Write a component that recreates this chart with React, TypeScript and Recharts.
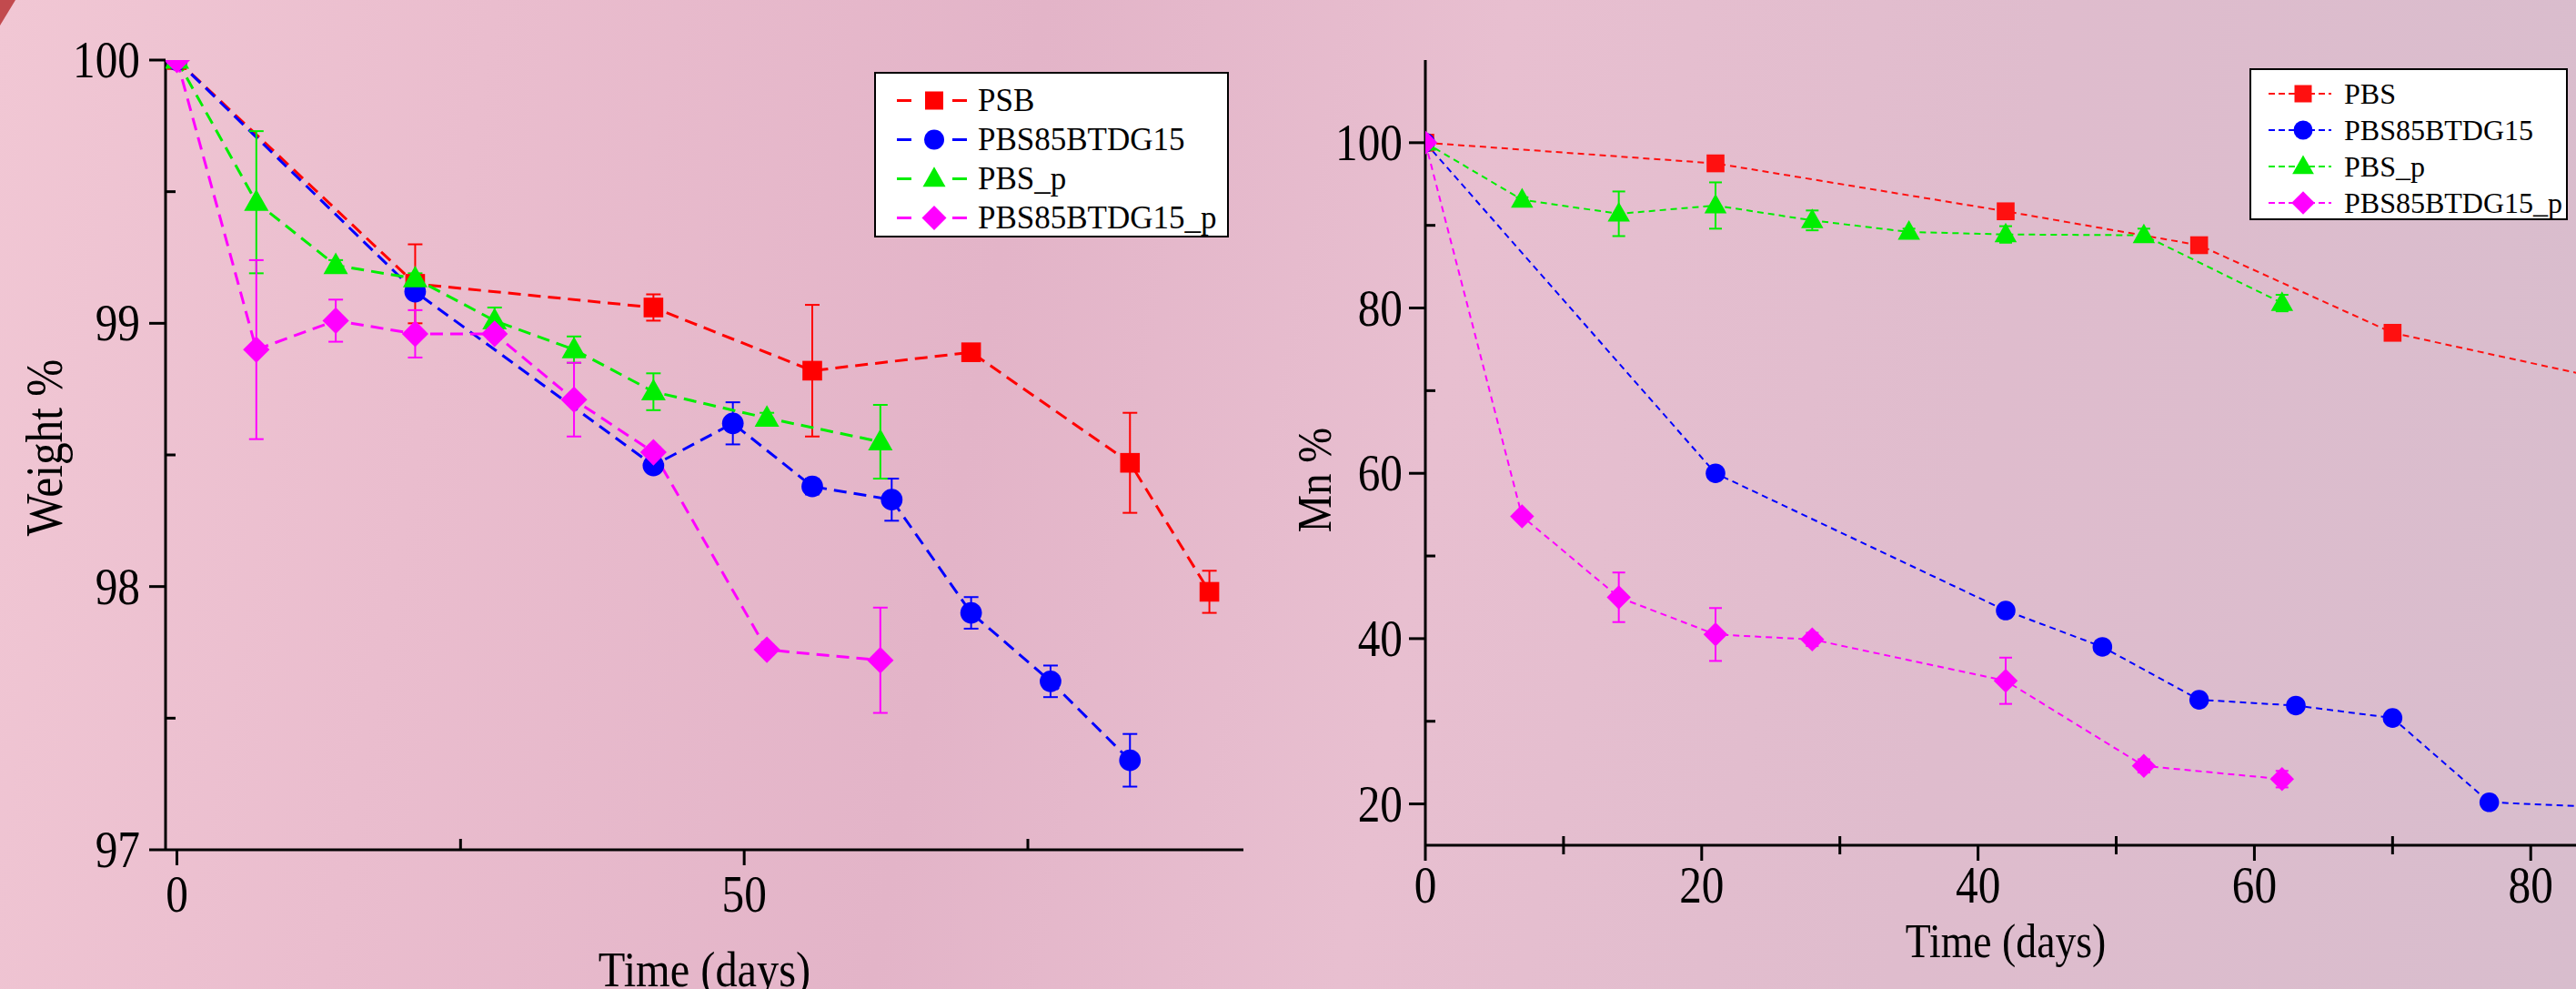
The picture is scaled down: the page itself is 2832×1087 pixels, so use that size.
import React from "react";
import { LineChart, Line, XAxis, YAxis, ErrorBar, Legend } from "recharts";

// ---- Weight % (left panel) ----
const wDaysPsb = [0, 21, 42, 56, 70, 84, 91];
const wPsb = [100, 99.15, 99.06, 98.82, 98.89, 98.47, 97.98];
const wPsbErr = [0, 0.15, 0.05, 0.25, 0.02, 0.19, 0.08];

const wDaysCo = [0, 21, 42, 49, 56, 63, 70, 77, 84];
const wCo = [100, 99.12, 98.46, 98.62, 98.38, 98.33, 97.9, 97.64, 97.34];
const wCoErr = [0, 0.02, 0.02, 0.08, 0.03, 0.08, 0.06, 0.06, 0.1];

const wDaysPsbP = [0, 7, 14, 21, 28, 35, 42, 52, 62];
const wPsbP = [100, 99.46, 99.22, 99.17, 99.01, 98.9, 98.74, 98.64, 98.55];
const wPsbPErr = [0, 0.27, 0.02, 0.02, 0.05, 0.05, 0.07, 0.02, 0.14];

const wDaysCoP = [0, 7, 14, 21, 28, 35, 42, 52, 62];
const wCoP = [100, 98.9, 99.01, 98.96, 98.96, 98.71, 98.51, 97.76, 97.72];
const wCoPErr = [0, 0.34, 0.08, 0.09, 0.02, 0.14, 0.02, 0.02, 0.2];

const wTicksX = [0, 25, 50, 75];
const wLabelsX = [0, 50];
const wTicksY = [97, 97.5, 98, 98.5, 99, 99.5, 100];
const wLabelsY = [97, 98, 99, 100];

// ---- Mn % (right panel) ----
const mDaysPbs = [0, 21, 42, 56, 70, 84];
const mPbs = [100, 97.5, 91.7, 87.6, 77.0, 71.9];
const mPbsErr = [0, 0.6, 0.8, 0.5, 0.4, 0];

const mDaysCo = [0, 21, 42, 49, 56, 63, 70, 77, 84];
const mCo = [100, 60.0, 43.4, 39.0, 32.6, 31.9, 30.4, 20.2, 19.7];
const mCoErr = [0, 0.5, 0.5, 0.4, 0.4, 0.5, 0.4, 0.8, 0];

const mDaysPbsP = [0, 7, 14, 21, 28, 35, 42, 52, 62];
const mPbsP = [100, 93.1, 91.4, 92.4, 90.6, 89.2, 88.9, 88.8, 80.6];
const mPbsPErr = [0, 0.3, 2.7, 2.8, 1.2, 0.4, 1.0, 0.8, 1.0];

const mDaysCoP = [0, 7, 14, 21, 28, 42, 52, 62];
const mCoP = [100, 54.8, 45.0, 40.5, 39.9, 34.9, 24.6, 23.0];
const mCoPErr = [0, 0.3, 3.0, 3.2, 0.8, 2.8, 0.8, 1.0];

const mTicksX = [0, 10, 20, 30, 40, 50, 60, 70, 80];
const mLabelsX = [0, 20, 40, 60, 80];
const mTicksY = [20, 30, 40, 50, 60, 70, 80, 90, 100];
const mLabelsY = [20, 40, 60, 80, 100];

const FONT = "'Liberation Serif', 'Times New Roman', serif";
const SQUEEZE = 0.88;

const toRows = (days: number[], vals: number[], errs: number[]) =>
  days.map((d, i) => ({ day: d, value: vals[i], err: errs[i] }));

type Shape = "square" | "circle" | "triangle" | "diamond";

const weightSeries = [
  { name: "PSB", color: "#ff0000", shape: "square" as Shape, data: toRows(wDaysPsb, wPsb, wPsbErr) },
  { name: "PBS85BTDG15", color: "#0000ff", shape: "circle" as Shape, data: toRows(wDaysCo, wCo, wCoErr) },
  { name: "PBS_p", color: "#00ee00", shape: "triangle" as Shape, data: toRows(wDaysPsbP, wPsbP, wPsbPErr) },
  { name: "PBS85BTDG15_p", color: "#ff00ff", shape: "diamond" as Shape, data: toRows(wDaysCoP, wCoP, wCoPErr) },
];

const mnSeries = [
  { name: "PBS", color: "#ff1010", shape: "square" as Shape, data: toRows(mDaysPbs, mPbs, mPbsErr) },
  { name: "PBS85BTDG15", color: "#0000ff", shape: "circle" as Shape, data: toRows(mDaysCo, mCo, mCoErr) },
  { name: "PBS_p", color: "#00ee00", shape: "triangle" as Shape, data: toRows(mDaysPbsP, mPbsP, mPbsPErr) },
  { name: "PBS85BTDG15_p", color: "#ff00ff", shape: "diamond" as Shape, data: toRows(mDaysCoP, mCoP, mCoPErr) },
];

function Marker({ cx, cy, shape, color, scale = 1 }: any) {
  if (cx == null || cy == null) return null;
  if (shape === "square") {
    const s = 20 * scale;
    return <rect x={cx - s / 2} y={cy - s / 2} width={s} height={s} fill={color} />;
  }
  if (shape === "circle") return <circle cx={cx} cy={cy} r={11 * scale} fill={color} />;
  if (shape === "triangle") {
    const w = 25 * scale;
    const h = 22 * scale;
    return (
      <polygon
        points={`${cx},${cy - h * 0.6} ${cx + w / 2},${cy + h * 0.4} ${cx - w / 2},${cy + h * 0.4}`}
        fill={color}
      />
    );
  }
  const d = 13.5 * scale;
  return <polygon points={`${cx},${cy - d} ${cx + d},${cy} ${cx},${cy + d} ${cx - d},${cy}`} fill={color} />;
}

function YTick({ x, y, payload, labeled, gap }: any) {
  const v = payload.value;
  const major = labeled.includes(v);
  return (
    <g>
      {major ? (
        <line x1={x - 18} x2={x} y1={y} y2={y} stroke="#000" strokeWidth={3} />
      ) : (
        <line x1={x} x2={x + 11} y1={y} y2={y} stroke="#000" strokeWidth={3} />
      )}
      {major && (
        <text
          transform={`translate(${x - 18 - gap},${y}) scale(${SQUEEZE},1)`}
          textAnchor="end"
          dominantBaseline="central"
          fontFamily={FONT}
          fontSize={56}
          fill="#000"
        >
          {v}
        </text>
      )}
    </g>
  );
}

function XTick({ x, y, payload, labeled, drop, minorMode }: any) {
  const v = payload.value;
  const major = labeled.includes(v);
  return (
    <g>
      {major ? (
        <line x1={x} x2={x} y1={y} y2={y + 17} stroke="#000" strokeWidth={3} />
      ) : minorMode === "cross" ? (
        <line x1={x} x2={x} y1={y - 10} y2={y + 10} stroke="#000" strokeWidth={3} />
      ) : (
        <line x1={x} x2={x} y1={y - 12} y2={y} stroke="#000" strokeWidth={3} />
      )}
      {major && (
        <text
          transform={`translate(${x},${y + drop}) scale(${SQUEEZE},1)`}
          textAnchor="middle"
          dominantBaseline="central"
          fontFamily={FONT}
          fontSize={56}
          fill="#000"
        >
          {v}
        </text>
      )}
    </g>
  );
}

const yTitle = (text: string, dx: number, dy: number, size: number) => (props: any) => {
  const vb = props.viewBox;
  return (
    <text
      transform={`translate(${vb.x + dx},${vb.y + vb.height / 2 + dy}) rotate(-90) scale(${SQUEEZE},1)`}
      textAnchor="middle"
      dominantBaseline="central"
      fontFamily={FONT}
      fontSize={size}
      fill="#000"
    >
      {text}
    </text>
  );
};

const xTitle = (text: string, baseline: number, size: number) => (props: any) => {
  const vb = props.viewBox;
  return (
    <text
      transform={`translate(${vb.x + vb.width / 2},${vb.y + baseline}) scale(${SQUEEZE},1)`}
      textAnchor="middle"
      fontFamily={FONT}
      fontSize={size}
      fill="#000"
    >
      {text}
    </text>
  );
};

// legend drawn as one svg so the serif font matches the axes
function LegendBox({ series, width, height, padTop, rowH, symL, symR, markX, textX, fontSize, dashed, markScale }: any) {
  return (
    <svg width={width} height={height} style={{ display: "block" }}>
      <rect x={1} y={1} width={width - 2} height={height - 2} fill="#fff" stroke="#000" strokeWidth={2} />
      {series.map((s: any, i: number) => {
        const cy = padTop + rowH * i + rowH / 2;
        return (
          <g key={s.name}>
            {dashed ? (
              <line x1={symL} x2={symR} y1={cy} y2={cy} stroke={s.color} strokeWidth={2} strokeDasharray="7 4" />
            ) : (
              <>
                <line x1={symL} x2={symL + 16} y1={cy} y2={cy} stroke={s.color} strokeWidth={3} />
                <line x1={symR - 16} x2={symR} y1={cy} y2={cy} stroke={s.color} strokeWidth={3} />
              </>
            )}
            <Marker cx={markX} cy={cy} shape={s.shape} color={s.color} scale={markScale} />
            <text
              x={textX}
              y={cy}
              dominantBaseline="central"
              fontFamily={FONT}
              fontSize={fontSize}
              fill="#000"
            >
              {s.name}
            </text>
          </g>
        );
      })}
    </svg>
  );
}

const axisLine = { stroke: "#000", strokeWidth: 3 };

export default function App() {
  return (
    <div
      style={{
        position: "fixed",
        left: 0,
        top: 0,
        width: 2832,
        height: 1087,
        overflow: "hidden",
        background:
          "linear-gradient(100deg, #f1c7d4 0%, #eabdce 18%, #e3b4c8 38%, #e8bfd0 55%, #dfbccd 75%, #d8bdcd 100%)",
      }}
    >
      <svg width={30} height={40} style={{ position: "absolute", left: 0, top: 0 }}>
        <polygon points="0,0 17,0 0,28" fill="#c24a4e" />
      </svg>

      {/* Weight loss panel */}
      <div style={{ position: "absolute", left: 0, top: 0 }}>
        <LineChart width={1400} height={1087} margin={{ top: 66, right: 33, left: 0, bottom: 0 }}>
          <XAxis
            dataKey="day"
            type="number"
            domain={[-1, 94]}
            allowDataOverflow
            ticks={wTicksX}
            interval={0}
            height={153}
            tickSize={0}
            tickMargin={0}
            tickLine={false}
            axisLine={axisLine}
            tick={(p: any) => <XTick {...p} labeled={wLabelsX} drop={49} minorMode="in" />}
            label={xTitle("Time (days)", 150, 55)}
          />
          <XAxis xAxisId="top" orientation="top" type="number" domain={[0, 1]} height={0} tick={false} tickLine={false} axisLine={axisLine} />
          <YAxis
            type="number"
            domain={[97, 100]}
            allowDataOverflow
            ticks={wTicksY}
            interval={0}
            width={182}
            tickSize={0}
            tickMargin={0}
            tickLine={false}
            axisLine={axisLine}
            tick={(p: any) => <YTick {...p} labeled={wLabelsY} gap={10} />}
            label={yTitle("Weight %", 49, -8, 56)}
          />
          <YAxis yAxisId="right" orientation="right" type="number" domain={[0, 1]} width={0} tick={false} tickLine={false} axisLine={axisLine} />
          <Legend
            verticalAlign="middle"
            align="center"
            layout="horizontal"
            wrapperStyle={{ left: 961, top: 79, width: 390, height: 182 }}
            content={() => (
              <LegendBox
                series={weightSeries}
                width={390}
                height={182}
                padTop={10}
                rowH={43}
                symL={25}
                symR={102}
                markX={66}
                textX={114}
                fontSize={35}
                dashed={false}
                markScale={1}
              />
            )}
          />
          {weightSeries.map((s) => (
            <Line
              key={s.name}
              data={s.data}
              dataKey="value"
              name={s.name}
              type="linear"
              stroke={s.color}
              strokeWidth={3}
              strokeDasharray="14 8"
              isAnimationActive={false}
              activeDot={false}
              dot={(p: any) => (
                <Marker key={`${s.name}-${p.index}`} cx={p.cx} cy={p.cy} shape={s.shape} color={s.color} scale={1.08} />
              )}
            >
              <ErrorBar dataKey="err" direction="y" width={8} stroke={s.color} strokeWidth={2} isAnimationActive={false} />
            </Line>
          ))}
        </LineChart>
      </div>

      {/* Mn panel */}
      <div style={{ position: "absolute", left: 1400, top: 0 }}>
        <LineChart width={1450} height={1087} margin={{ top: 66, right: 7, left: 0, bottom: 0 }}>
          <XAxis
            dataKey="day"
            type="number"
            domain={[0, 84]}
            allowDataOverflow
            ticks={mTicksX}
            interval={0}
            height={158}
            tickSize={0}
            tickMargin={0}
            tickLine={false}
            axisLine={axisLine}
            tick={(p: any) => <XTick {...p} labeled={mLabelsX} drop={44} minorMode="cross" />}
            label={xTitle("Time (days)", 123, 52)}
          />
          <XAxis xAxisId="top" orientation="top" type="number" domain={[0, 1]} height={0} tick={false} tickLine={false} axisLine={axisLine} />
          <YAxis
            type="number"
            domain={[15, 110]}
            allowDataOverflow
            ticks={mTicksY}
            interval={0}
            width={167}
            tickSize={0}
            tickMargin={0}
            tickLine={false}
            axisLine={axisLine}
            tick={(p: any) => <YTick {...p} labeled={mLabelsY} gap={7} />}
            label={yTitle("Mn %", 45, 30, 53)}
          />
          <Legend
            verticalAlign="middle"
            align="center"
            layout="horizontal"
            wrapperStyle={{ left: 1073, top: 75, width: 350, height: 167 }}
            content={() => (
              <LegendBox
                series={mnSeries}
                width={350}
                height={167}
                padTop={8}
                rowH={40}
                symL={21}
                symR={90}
                markX={59}
                textX={104}
                fontSize={32}
                dashed
                markScale={0.95}
              />
            )}
          />
          {mnSeries.map((s) => (
            <Line
              key={s.name}
              data={s.data}
              dataKey="value"
              name={s.name}
              type="linear"
              stroke={s.color}
              strokeWidth={2}
              strokeDasharray="7 5"
              isAnimationActive={false}
              activeDot={false}
              dot={(p: any) => (
                <Marker key={`${s.name}-${p.index}`} cx={p.cx} cy={p.cy} shape={s.shape} color={s.color} scale={0.98} />
              )}
            >
              <ErrorBar dataKey="err" direction="y" width={7} stroke={s.color} strokeWidth={2} isAnimationActive={false} />
            </Line>
          ))}
        </LineChart>
      </div>
    </div>
  );
}
